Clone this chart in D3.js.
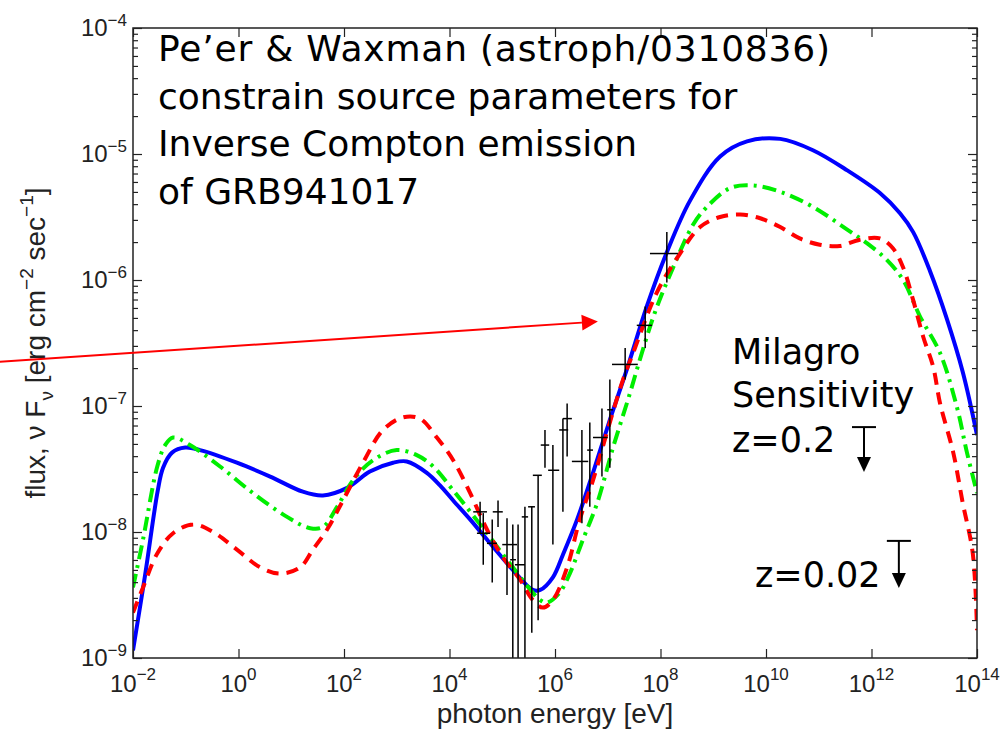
<!DOCTYPE html>
<html><head><meta charset="utf-8">
<script src="https://cdn.jsdelivr.net/npm/d3@7"></script>
<style>body{margin:0;background:#fff}svg{display:block}</style>
</head><body>
<svg id="chart" width="1004" height="730"></svg>
<script>
// ---- axis ticks ----
const xTickExps = [-2, 0, 2, 4, 6, 8, 10, 12, 14];
const yTickExps = [-9, -8, -7, -6, -5, -4];

// ---- model curves (log10 photon energy [eV], log10 flux [erg cm^-2 s^-1]) ----
const blueLogE = [-2.00,-1.77,-1.53,-1.43,-1.26,-1.01,-0.73,-0.03,0.60,1.22,1.60,2.06,2.49,2.93,3.19,3.57,3.82,4.07,4.39,4.71,5.20,5.58,5.72,5.96,6.15,6.42,6.72,7.04,7.37,7.74,8.12,8.56,9.13,9.64,10.27,10.89,11.54,12.16,12.54,12.79,13.11,13.43,13.73,14.00];
const blueLogF = [-8.94,-8.34,-7.67,-7.49,-7.37,-7.33,-7.35,-7.45,-7.56,-7.68,-7.71,-7.65,-7.52,-7.45,-7.44,-7.53,-7.63,-7.75,-7.90,-8.06,-8.30,-8.46,-8.46,-8.36,-8.18,-7.90,-7.53,-7.11,-6.70,-6.21,-5.78,-5.37,-5.02,-4.90,-4.88,-4.97,-5.13,-5.31,-5.47,-5.62,-5.93,-6.31,-6.73,-7.23];

const greenLogE = [-2.00,-1.81,-1.54,-1.39,-1.24,-0.92,-0.35,0.27,0.92,1.36,1.60,1.87,2.17,2.55,3.00,3.38,3.69,4.07,4.71,5.20,5.72,5.85,6.09,6.28,6.53,6.80,7.10,7.42,7.61,7.90,8.24,8.62,8.88,9.32,9.75,10.27,10.89,11.54,11.92,12.29,12.60,12.92,13.30,13.62,13.81,14.00];
const greenLogF = [-8.44,-8.06,-7.48,-7.31,-7.25,-7.31,-7.48,-7.69,-7.88,-7.97,-7.96,-7.80,-7.59,-7.43,-7.35,-7.39,-7.48,-7.67,-8.01,-8.28,-8.54,-8.56,-8.48,-8.33,-8.06,-7.77,-7.33,-6.90,-6.63,-6.25,-5.90,-5.56,-5.42,-5.27,-5.25,-5.30,-5.42,-5.60,-5.71,-5.84,-6.00,-6.29,-6.58,-7.01,-7.37,-7.69];

const redLogE = [-2.00,-1.81,-1.54,-1.24,-0.86,-0.48,-0.03,0.41,0.79,1.17,1.41,1.68,1.98,2.36,2.74,3.12,3.44,3.76,4.07,4.39,4.71,5.01,5.34,5.58,5.77,5.96,6.23,6.47,6.72,7.04,7.29,7.48,7.93,8.37,8.75,9.13,9.51,9.89,10.27,10.64,11.02,11.40,11.78,12.16,12.41,12.60,12.79,12.98,13.17,13.30,13.55,13.73,13.92,14.00];
const redLogF = [-8.64,-8.44,-8.17,-8.01,-7.94,-8.00,-8.14,-8.28,-8.33,-8.28,-8.14,-7.98,-7.75,-7.45,-7.19,-7.09,-7.10,-7.25,-7.43,-7.69,-7.98,-8.20,-8.38,-8.54,-8.60,-8.54,-8.28,-7.90,-7.59,-7.13,-6.79,-6.58,-6.10,-5.79,-5.58,-5.50,-5.48,-5.51,-5.58,-5.67,-5.72,-5.73,-5.68,-5.67,-5.75,-5.90,-6.16,-6.45,-6.69,-6.98,-7.37,-7.77,-8.17,-8.78];

// ---- measured points with error bars (log10 values) ----
const dataLogE   = [4.58,4.64,4.81,4.92,5.09,5.20,5.30,5.43,5.56,5.68,5.81,5.96,6.15,6.23,6.51,6.66,6.89,7.04,7.33,7.71,8.12];
const dataLogELo = [4.45,4.52,4.71,4.82,5.00,5.15,5.24,5.37,5.49,5.58,5.73,5.87,6.08,6.15,6.32,6.61,6.72,6.99,7.08,7.55,7.80];
const dataLogEHi = [4.71,4.77,4.90,5.01,5.28,5.26,5.43,5.49,5.62,5.75,5.89,6.08,6.25,6.32,6.63,6.72,7.00,7.10,7.57,7.84,8.33];
const dataLogF   = [-7.84,-8.01,-8.09,-7.84,-8.10,-8.22,-8.26,-7.88,-7.80,-7.55,-7.31,-7.51,-7.19,-7.10,-7.44,-7.35,-7.25,-7.03,-6.67,-6.36,-5.79];
const dataLogFLo = [-8.01,-8.26,-8.40,-7.96,-8.50,-9.30,-9.30,-9.30,-8.80,-8.70,-7.49,-8.10,-7.84,-7.40,-7.93,-7.80,-7.56,-7.49,-6.79,-6.54,-6.02];
const dataLogFHi = [-7.76,-7.85,-7.90,-7.75,-7.89,-7.94,-7.94,-7.80,-7.80,-7.55,-7.19,-7.31,-7.10,-6.98,-7.19,-7.13,-7.02,-6.79,-6.54,-6.21,-5.62];

// ---- Milagro sensitivity upper limits ----
const milagroLabels = ["z=0.2", "z=0.02"];
const milagroE   = [7.2e11, 3.3e12];
const milagroF   = [6.8e-8, 8.5e-9];
const milagroTip = [3.0e-8, 3.6e-9];

// ---- annotation arrow (data coordinates) ----
const arrowStart = [3.0e-5, 2.24e-7];
const arrowEnd   = [6.5e6, 4.68e-7];

const noteLines = ["Pe\u2019er & Waxman (astroph/0310836)", "constrain source parameters for", "Inverse Compton emission", "of GRB941017"];
const milagroTitle = ["Milagro", "Sensitivity"];

// ================= drawing =================
const L = 133, R = 977, T = 28, B = 658;
const svg = d3.select("#chart");
const x = d3.scaleLog().domain([1e-2, 1e14]).range([L, R]);
const y = d3.scaleLog().domain([1e-9, 1e-4]).range([B, T]);

svg.append("defs").append("clipPath").attr("id", "clip")
  .append("rect").attr("x", L).attr("y", T).attr("width", R - L).attr("height", B - T);

const plot = svg.append("g").attr("clip-path", "url(#clip)");

function series(le, lf) { return le.map((e, i) => ({ e: Math.pow(10, e), f: Math.pow(10, lf[i]) })); }
const line = d3.line().x(d => x(d.e)).y(d => y(d.f)).curve(d3.curveCatmullRom.alpha(0.5));

plot.append("path").datum(series(blueLogE, blueLogF)).attr("d", line)
  .attr("fill", "none").attr("stroke", "#0000ff").attr("stroke-width", 4);
plot.append("path").datum(series(greenLogE, greenLogF)).attr("d", line)
  .attr("fill", "none").attr("stroke", "#00ee00").attr("stroke-width", 4)
  .attr("stroke-dasharray", "14,6,3,6");
plot.append("path").datum(series(redLogE, redLogF)).attr("d", line)
  .attr("fill", "none").attr("stroke", "#ff0000").attr("stroke-width", 4)
  .attr("stroke-dasharray", "12,8");

// error bars
const pts = dataLogE.map((e, i) => ({
  e: Math.pow(10, e), eLo: Math.pow(10, dataLogELo[i]), eHi: Math.pow(10, dataLogEHi[i]),
  f: Math.pow(10, dataLogF[i]), fLo: Math.pow(10, dataLogFLo[i]), fHi: Math.pow(10, dataLogFHi[i])
}));
const eb = plot.append("g").attr("stroke", "#000").attr("stroke-width", 1.5);
eb.selectAll(".h").data(pts).join("line")
  .attr("x1", d => x(d.eLo)).attr("x2", d => x(d.eHi)).attr("y1", d => y(d.f)).attr("y2", d => y(d.f));
eb.selectAll(".v").data(pts).join("line")
  .attr("x1", d => x(d.e)).attr("x2", d => x(d.e)).attr("y1", d => y(d.fLo)).attr("y2", d => y(d.fHi));

// axes box
svg.append("rect").attr("x", L).attr("y", T).attr("width", R - L).attr("height", B - T)
  .attr("fill", "none").attr("stroke", "#222").attr("stroke-width", 1.5);

const xMajor = xTickExps.map(p => Math.pow(10, p));
const yMajor = yTickExps.map(p => Math.pow(10, p));
const yMinor = [];
yTickExps.slice(0, -1).forEach(p => { for (let k = 2; k <= 9; k++) yMinor.push(k * Math.pow(10, p)); });

function styleAxis(g) { g.select(".domain").remove(); g.selectAll("line").attr("stroke", "#222").attr("stroke-width", 1.2); g.selectAll("text").remove(); }
svg.append("g").attr("transform", `translate(0,${B})`).call(d3.axisBottom(x).tickValues(xMajor).tickSize(-9)).call(styleAxis);
svg.append("g").attr("transform", `translate(0,${T})`).call(d3.axisTop(x).tickValues(xMajor).tickSize(-9)).call(styleAxis);
svg.append("g").attr("transform", `translate(${L},0)`).call(d3.axisLeft(y).tickValues(yMajor).tickSize(-9)).call(styleAxis);
svg.append("g").attr("transform", `translate(${L},0)`).call(d3.axisLeft(y).tickValues(yMinor).tickSize(-5)).call(styleAxis);
svg.append("g").attr("transform", `translate(${R},0)`).call(d3.axisRight(y).tickValues(yMajor).tickSize(-9)).call(styleAxis);
svg.append("g").attr("transform", `translate(${R},0)`).call(d3.axisRight(y).tickValues(yMinor).tickSize(-5)).call(styleAxis);

// tick labels
const tickFont = "'Liberation Sans', Arial, sans-serif";
const fmtExp = p => (p < 0 ? "\u2212" + (-p) : "" + p);
xTickExps.forEach(p => {
  const t = svg.append("text").attr("x", x(Math.pow(10, p))).attr("y", B + 34)
    .attr("text-anchor", "middle").attr("font-family", tickFont).attr("font-size", 24).attr("fill", "#222");
  t.append("tspan").text("10");
  t.append("tspan").attr("dy", -12).attr("font-size", 17).text(fmtExp(p));
});
yTickExps.forEach(p => {
  const t = svg.append("text").attr("x", 127).attr("y", y(Math.pow(10, p)) + 8)
    .attr("text-anchor", "end").attr("font-family", tickFont).attr("font-size", 24).attr("fill", "#222");
  t.append("tspan").text("10");
  t.append("tspan").attr("dy", -10).attr("font-size", 17).text(fmtExp(p));
});

// axis titles
svg.append("text").attr("x", (L + R) / 2).attr("y", 723).attr("text-anchor", "middle")
  .attr("font-family", tickFont).attr("font-size", 28).attr("fill", "#222").text("photon energy [eV]");

const yl = svg.append("text").attr("transform", "translate(45,343) rotate(-90)").attr("text-anchor", "middle")
  .attr("font-family", tickFont).attr("font-size", 28).attr("fill", "#222");
yl.append("tspan").text("flux, \u03bd F");
yl.append("tspan").attr("dy", 8).attr("font-size", 19).text("\u03bd");
yl.append("tspan").attr("dy", -8).text(" [erg cm");
yl.append("tspan").attr("dy", -12).attr("font-size", 19).text("\u22122");
yl.append("tspan").attr("dy", 12).text(" sec");
yl.append("tspan").attr("dy", -12).attr("font-size", 19).text("\u22121");
yl.append("tspan").attr("dy", 12).text("]");

// annotation text
const noteFont = "'DejaVu Sans', sans-serif";
noteLines.forEach((s, i) => {
  const t = svg.append("text").attr("x", 158).attr("y", 61 + i * 47.5).attr("font-family", noteFont)
    .attr("font-size", 36).attr("fill", "#000").text(s);
  if (i === 0) t.attr("textLength", 672).attr("lengthAdjust", "spacing");
});
milagroTitle.forEach((s, i) => {
  svg.append("text").attr("x", 732).attr("y", 364 + i * 43).attr("font-family", noteFont)
    .attr("font-size", 35).attr("fill", "#000").text(s);
});

// Milagro upper limits
milagroE.forEach((e, i) => {
  const cx = x(e), cy = y(milagroF[i]), ty = y(milagroTip[i]);
  const g = svg.append("g");
  g.append("line").attr("x1", cx - 12).attr("x2", cx + 12).attr("y1", cy).attr("y2", cy).attr("stroke", "#000").attr("stroke-width", 2);
  g.append("line").attr("x1", cx).attr("x2", cx).attr("y1", cy).attr("y2", ty - 12).attr("stroke", "#000").attr("stroke-width", 2);
  g.append("path").attr("d", `M${cx - 7},${ty - 15}L${cx + 7},${ty - 15}L${cx},${ty}Z`).attr("fill", "#000");
  svg.append("text").attr("x", i === 0 ? 732 : 755).attr("y", cy + (i === 0 ? 25 : 46))
    .attr("font-family", noteFont).attr("font-size", 35).attr("fill", "#000").text(milagroLabels[i]);
});

// red arrow
const ax0 = x(arrowStart[0]), ay0 = y(arrowStart[1]), ax1 = x(arrowEnd[0]), ay1 = y(arrowEnd[1]);
const ang = Math.atan2(ay1 - ay0, ax1 - ax0);
const hl = 16, hw = 8;
const bx = ax1 - hl * Math.cos(ang), by = ay1 - hl * Math.sin(ang);
svg.append("line").attr("x1", ax0).attr("y1", ay0).attr("x2", bx).attr("y2", by)
  .attr("stroke", "#ff0000").attr("stroke-width", 2);
svg.append("path").attr("d", `M${ax1},${ay1}L${bx - hw * Math.sin(ang)},${by + hw * Math.cos(ang)}L${bx + hw * Math.sin(ang)},${by - hw * Math.cos(ang)}Z`)
  .attr("fill", "#ff0000");
</script>
</body></html>
